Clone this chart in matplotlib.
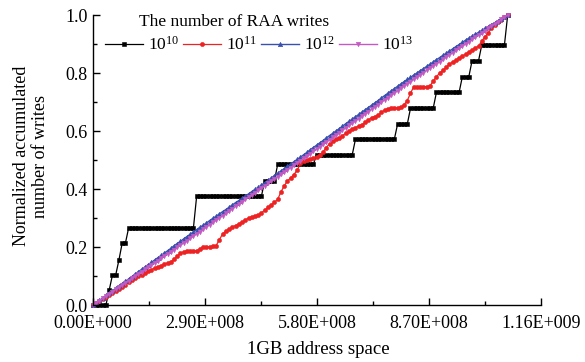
import numpy as np
import matplotlib
matplotlib.use("Agg")
import matplotlib.pyplot as plt
from matplotlib.ticker import MultipleLocator, FixedLocator, FixedFormatter

plt.rcParams['font.family'] = ['Liberation Serif', 'DejaVu Serif']
plt.rcParams['mathtext.fontset'] = 'custom'
plt.rcParams['mathtext.rm'] = 'Liberation Serif'
plt.rcParams['mathtext.it'] = 'Liberation Serif:italic'

# ---- data ----
address_space = 2 ** 30          # 1GB
n_samples = 129                  # sampled every 8MB
x_addr = np.linspace(0, address_space, n_samples)

# 10^10 writes: step levels and how many samples sit on each level
black_levels = [0.0, 0.052, 0.103, 0.155, 0.213, 0.266, 0.376, 0.428, 0.485,
                0.517, 0.571, 0.623, 0.678, 0.733, 0.787, 0.842, 0.897, 1.0]
black_counts = [5, 1, 2, 1, 2, 21, 21, 4, 12, 12, 13, 4, 8, 8, 3, 3, 8, 1]
y_1e10 = np.repeat(black_levels, black_counts)

y_1e11 = [0.000, 0.006, 0.013, 0.020, 0.027, 0.034, 0.041, 0.048, 0.055, 0.062,
          0.070, 0.078, 0.085, 0.093, 0.099, 0.104, 0.110, 0.117, 0.122, 0.127,
          0.131, 0.136, 0.141, 0.145, 0.149, 0.158, 0.170, 0.178, 0.184, 0.185,
          0.185, 0.186, 0.187, 0.194, 0.200, 0.200, 0.201, 0.202, 0.205, 0.225,
          0.245, 0.255, 0.262, 0.269, 0.274, 0.280, 0.286, 0.293, 0.300, 0.303,
          0.307, 0.311, 0.318, 0.327, 0.337, 0.346, 0.354, 0.364, 0.390, 0.410,
          0.428, 0.438, 0.450, 0.464, 0.488, 0.495, 0.500, 0.503, 0.507, 0.511,
          0.516, 0.528, 0.543, 0.556, 0.565, 0.571, 0.577, 0.584, 0.592, 0.600,
          0.606, 0.612, 0.617, 0.622, 0.630, 0.638, 0.646, 0.650, 0.655, 0.664,
          0.672, 0.676, 0.678, 0.679, 0.680, 0.682, 0.690, 0.705, 0.730, 0.753,
          0.753, 0.753, 0.753, 0.753, 0.755, 0.772, 0.787, 0.800, 0.810, 0.820,
          0.830, 0.838, 0.845, 0.852, 0.858, 0.865, 0.873, 0.880, 0.886, 0.893,
          0.910, 0.925, 0.938, 0.955, 0.965, 0.975, 0.984, 0.992, 1.000]

y_1e12 = [0.000, 0.008, 0.016, 0.025, 0.033, 0.041, 0.049, 0.057, 0.066, 0.074,
          0.082, 0.090, 0.098, 0.107, 0.115, 0.123, 0.131, 0.139, 0.147, 0.155,
          0.163, 0.171, 0.179, 0.187, 0.195, 0.204, 0.212, 0.220, 0.228, 0.236,
          0.244, 0.252, 0.260, 0.268, 0.275, 0.283, 0.291, 0.299, 0.306, 0.314,
          0.322, 0.329, 0.337, 0.345, 0.353, 0.360, 0.368, 0.376, 0.383, 0.391,
          0.399, 0.406, 0.414, 0.422, 0.430, 0.438, 0.446, 0.454, 0.462, 0.470,
          0.478, 0.486, 0.494, 0.502, 0.510, 0.518, 0.526, 0.535, 0.543, 0.551,
          0.559, 0.567, 0.576, 0.584, 0.592, 0.600, 0.608, 0.617, 0.625, 0.633,
          0.641, 0.649, 0.657, 0.665, 0.673, 0.681, 0.689, 0.697, 0.705, 0.714,
          0.722, 0.730, 0.738, 0.746, 0.754, 0.762, 0.770, 0.778, 0.785, 0.793,
          0.800, 0.808, 0.815, 0.823, 0.830, 0.838, 0.846, 0.853, 0.861, 0.868,
          0.876, 0.883, 0.891, 0.898, 0.906, 0.913, 0.920, 0.927, 0.934, 0.940,
          0.947, 0.954, 0.960, 0.967, 0.973, 0.980, 0.987, 0.993, 1.000]

y_1e13 = [0.000, 0.008, 0.015, 0.023, 0.031, 0.038, 0.046, 0.054, 0.061, 0.069,
          0.077, 0.084, 0.092, 0.100, 0.107, 0.115, 0.123, 0.130, 0.138, 0.145,
          0.153, 0.161, 0.168, 0.176, 0.184, 0.191, 0.199, 0.207, 0.214, 0.222,
          0.230, 0.237, 0.245, 0.253, 0.261, 0.269, 0.277, 0.285, 0.293, 0.300,
          0.308, 0.316, 0.324, 0.332, 0.340, 0.348, 0.356, 0.364, 0.372, 0.379,
          0.387, 0.395, 0.403, 0.411, 0.419, 0.427, 0.435, 0.443, 0.451, 0.458,
          0.466, 0.474, 0.482, 0.490, 0.498, 0.506, 0.514, 0.522, 0.530, 0.538,
          0.546, 0.554, 0.562, 0.570, 0.578, 0.586, 0.594, 0.603, 0.611, 0.619,
          0.627, 0.635, 0.643, 0.651, 0.659, 0.667, 0.675, 0.683, 0.691, 0.699,
          0.707, 0.715, 0.723, 0.731, 0.739, 0.747, 0.755, 0.763, 0.770, 0.778,
          0.786, 0.793, 0.801, 0.809, 0.816, 0.824, 0.832, 0.839, 0.847, 0.855,
          0.862, 0.870, 0.878, 0.885, 0.893, 0.900, 0.908, 0.916, 0.923, 0.931,
          0.939, 0.946, 0.954, 0.962, 0.969, 0.977, 0.985, 0.992, 1.000]

series_labels = [r'$\mathrm{10^{10}}$', r'$\mathrm{10^{11}}$',
                 r'$\mathrm{10^{12}}$', r'$\mathrm{10^{13}}$']
x_ticks = [0.0, 2.9e8, 5.8e8, 8.7e8, 1.16e9]
x_tick_labels = ['0.00E+000', '2.90E+008', '5.80E+008', '8.70E+008', '1.16E+009']
y_ticks = [0.0, 0.2, 0.4, 0.6, 0.8, 1.0]
y_tick_labels = ['0.0', '0.2', '0.4', '0.6', '0.8', '1.0']

# ---- figure ----
W, H = 585, 362
fig = plt.figure(figsize=(W / 100, H / 100), dpi=100)
ax = fig.add_axes([93 / W, (H - 305) / H, 448 / W, 290 / H])

styles = [
    dict(color='black', marker='s', ms=2.4, lw=0.9),
    dict(color='#ee2222', marker='o', ms=3.0, lw=0.9),
    dict(color='#3a50b0', marker='^', ms=3.2, lw=1.0),
    dict(color='#c35ac3', marker='v', ms=3.2, lw=1.0),
]
handles = []
for y, lab, st in zip([y_1e10, y_1e11, y_1e12, y_1e13], series_labels, styles):
    h, = ax.plot(x_addr, y, label=lab, clip_on=False, markeredgewidth=0.4,
                 **st)
    handles.append(h)

ax.set_xlim(0, 1.16e9)
ax.set_ylim(0, 1.0)
for s in ['top', 'right']:
    ax.spines[s].set_visible(False)
for s in ['left', 'bottom']:
    ax.spines[s].set_linewidth(1.0)

ax.xaxis.set_major_locator(FixedLocator(x_ticks))
ax.xaxis.set_major_formatter(FixedFormatter(x_tick_labels))
ax.xaxis.set_minor_locator(MultipleLocator(1.45e8))
ax.yaxis.set_major_locator(FixedLocator(y_ticks))
ax.yaxis.set_major_formatter(FixedFormatter(y_tick_labels))
ax.yaxis.set_minor_locator(MultipleLocator(0.1))
ax.tick_params(which='both', direction='in', top=False, right=False,
               labelsize=13, width=1.0)
ax.tick_params(which='major', length=5)
ax.tick_params(which='minor', length=3)
ax.tick_params(axis='x', pad=7)
ax.tick_params(axis='y', pad=4)

fig.text(318 / W, 1 - 350 / H, '1GB address space', ha='center', va='center',
         fontsize=13.5)
fig.text(31 / W, 1 - 156 / H, 'Normalized accumulated\nnumber of writes',
         ha='center', va='center', rotation=90, fontsize=13, linespacing=1.2)

leg = ax.legend(handles=handles, loc='center left', ncol=4, frameon=False,
                bbox_to_anchor=(105 / W, 1 - 45 / H),
                bbox_transform=fig.transFigure, borderpad=0, borderaxespad=0,
                handlelength=2.2, handletextpad=0.3, columnspacing=0.2,
                fontsize=12.5)
fig.text(139 / W, 1 - 22 / H, 'The number of RAA writes', ha='left',
         va='center', fontsize=12.5)

fig.savefig('out.png', dpi=100)
